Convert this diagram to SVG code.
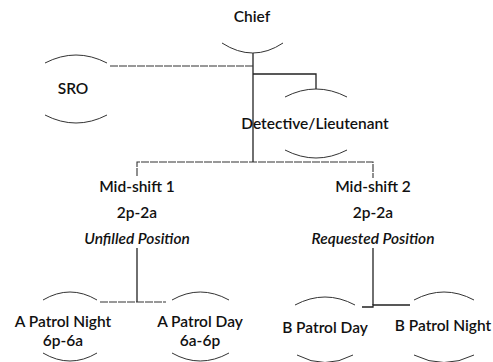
<svg xmlns="http://www.w3.org/2000/svg" width="493" height="362" viewBox="0 0 493 362">
<style>
.arc{fill:none;stroke:#333;stroke-width:1}
.ln{fill:none;stroke:#222;stroke-width:1.3}
.lnd{fill:none;stroke:#333;stroke-width:1.1;stroke-dasharray:8 1}
text{font-family:Lato,"Liberation Sans",sans-serif;font-size:15.5px;fill:#111;text-anchor:middle;font-weight:600}
.it{font-style:italic}
</style>
<rect width="493" height="362" fill="#fff"/>
<g id="connectors">
<path class="ln" d="M253 53 V162"/>
<path class="lnd" d="M110 66 H253"/>
<path class="ln" d="M253 74 H316 V89"/>
<path class="lnd" d="M137 176 V162 H373 V178"/>
<path class="ln" d="M137 248 V302"/>
<path class="lnd" d="M100 302 H166"/>
<path class="ln" d="M373 248 V305"/>
<path class="ln" d="M362 307 H373 V305 H410"/>
</g>
<g id="chief">
<text x="252" y="22">Chief</text>
<path class="arc" d="M222 43 Q253 63 283 43"/>
</g>
<g id="sro">
<path class="arc" d="M45 63 Q76 47 107 63"/>
<text x="73" y="94">SRO</text>
<path class="arc" d="M45 115 Q76 131 107 115"/>
</g>
<g id="detective">
<path class="arc" d="M285 97 Q316 81 347 97"/>
<text x="315" y="129">Detective/Lieutenant</text>
<path class="arc" d="M285 150 Q316 166 347 150"/>
</g>
<g id="midshift1">
<text x="137" y="192">Mid-shift 1</text>
<text x="137" y="218">2p-2a</text>
<text x="137" y="244" class="it">Unfilled Position</text>
</g>
<g id="midshift2">
<text x="373" y="192">Mid-shift 2</text>
<text x="373" y="218">2p-2a</text>
<text x="373" y="244" class="it">Requested Position</text>
</g>
<g id="apatrolnight">
<path class="arc" d="M43 300 Q70 284 97 300"/>
<text x="63" y="327">A Patrol Night</text>
<text x="63" y="346">6p-6a</text>
<path class="arc" d="M43 353 Q70 369 97 353"/>
</g>
<g id="apatrolday">
<path class="arc" d="M172 300 Q200 284 229 300"/>
<text x="200" y="327">A Patrol Day</text>
<text x="200" y="346">6a-6p</text>
<path class="arc" d="M172 353 Q200 369 229 353"/>
</g>
<g id="bpatrolday">
<path class="arc" d="M295 305 Q325 289 355 305"/>
<text x="325" y="333">B Patrol Day</text>
<path class="arc" d="M297 355 Q325 370 353 355"/>
</g>
<g id="bpatrolnight">
<path class="arc" d="M414 300 Q444 284 474 300"/>
<text x="443" y="331">B Patrol Night</text>
<path class="arc" d="M414 355 Q444 370 474 355"/>
</g>
</svg>
